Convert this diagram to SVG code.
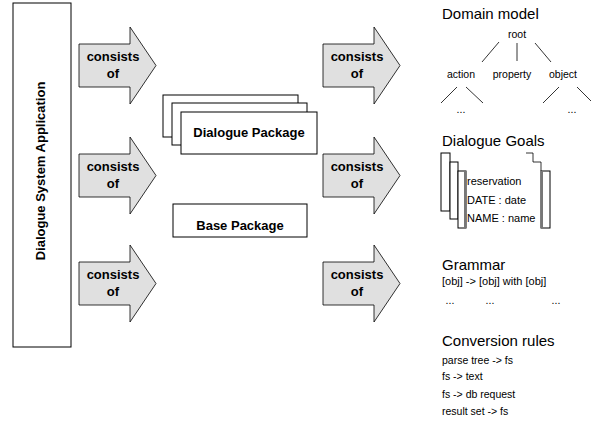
<svg xmlns="http://www.w3.org/2000/svg" width="591" height="425" viewBox="0 0 591 425">
<style>
.box{fill:#fff;stroke:#000;stroke-width:1}
.arrow{fill:#e0e0e0;stroke:#000;stroke-width:0.8}
.b{font-family:"Liberation Sans",Arial,sans-serif;font-weight:bold;font-size:13px;fill:#000}
.h{font-family:"Liberation Sans",Arial,sans-serif;font-size:15px;fill:#000}
.s{font-family:"Liberation Sans",Arial,sans-serif;font-size:11px;fill:#000}
.t{font-family:"Liberation Sans",Arial,sans-serif;font-size:10.5px;fill:#000}
.ln{stroke:#000;stroke-width:0.8;fill:none}
</style>
<defs>
<path id="arr" d="M0,17 H51 V0 L77,38.5 L51,77 V60 H0 Z"/>
</defs>
<rect width="591" height="425" fill="#fff"/>

<g id="app">
<rect class="box" x="13" y="3" width="58" height="344"/>
<text class="b" transform="translate(45,171) rotate(-90)" text-anchor="middle">Dialogue System Application</text>
</g>

<g id="connectors">
<g id="arrowL1"><use href="#arr" class="arrow" x="79" y="27"/><text class="b" x="113" y="61" text-anchor="middle">consists</text><text class="b" x="113" y="78" text-anchor="middle">of</text></g>
<g id="arrowL2"><use href="#arr" class="arrow" x="79" y="137"/><text class="b" x="113" y="171" text-anchor="middle">consists</text><text class="b" x="113" y="188" text-anchor="middle">of</text></g>
<g id="arrowL3"><use href="#arr" class="arrow" x="79" y="245"/><text class="b" x="113" y="279" text-anchor="middle">consists</text><text class="b" x="113" y="296" text-anchor="middle">of</text></g>
<g id="arrowR1"><use href="#arr" class="arrow" x="323" y="27"/><text class="b" x="357" y="61" text-anchor="middle">consists</text><text class="b" x="357" y="78" text-anchor="middle">of</text></g>
<g id="arrowR2"><use href="#arr" class="arrow" x="323" y="137"/><text class="b" x="357" y="171" text-anchor="middle">consists</text><text class="b" x="357" y="188" text-anchor="middle">of</text></g>
<g id="arrowR3"><use href="#arr" class="arrow" x="323" y="245"/><text class="b" x="357" y="279" text-anchor="middle">consists</text><text class="b" x="357" y="296" text-anchor="middle">of</text></g>
</g>

<g id="dialoguePackage">
<rect class="box" x="163" y="95" width="135" height="42"/>
<rect class="box" x="172" y="103" width="135" height="42"/>
<rect class="box" x="181" y="112" width="136" height="42"/>
<text class="b" x="249" y="137" text-anchor="middle">Dialogue Package</text>
</g>

<g id="basePackage">
<rect class="box" x="173" y="204" width="134" height="33"/>
<text class="b" x="240" y="230" text-anchor="middle">Base Package</text>
</g>

<g id="domainModel">
<text class="h" x="442" y="19">Domain model</text>
<text class="t" x="517" y="38" text-anchor="middle">root</text>
<path class="ln" d="M499,42 L482,62 M517,43 V61 M535,43 L551,62"/>
<text class="t" x="461" y="78" text-anchor="middle">action</text>
<text class="t" x="512" y="78" text-anchor="middle">property</text>
<text class="t" x="563" y="78" text-anchor="middle">object</text>
<path class="ln" d="M457,87 L441,103 M466,87 L483,103 M559,87 L543,103 M577,87 L591,101"/>
<text class="t" x="461" y="113" text-anchor="middle">...</text>
<text class="t" x="572" y="113" text-anchor="middle">...</text>
</g>

<g id="dialogueGoals">
<text class="h" x="442" y="146">Dialogue Goals</text>
<rect class="box" x="441" y="153" width="9" height="58"/>
<rect class="box" x="450" y="162" width="8" height="57"/>
<rect class="box" x="458" y="171" width="8" height="57"/>
<line x1="465" y1="171" x2="465" y2="228" stroke="#777" stroke-width="2"/>
<path class="ln" d="M526,153 H533 V162 H541 V171"/>
<rect class="box" x="541" y="171" width="9" height="57"/>
<line x1="542" y1="171" x2="542" y2="228" stroke="#777" stroke-width="2"/>
<text class="s" x="467" y="185">reservation</text>
<text class="s" x="467" y="204">DATE : date</text>
<text class="s" x="467" y="222">NAME : name</text>
</g>

<g id="grammar">
<text class="h" x="442" y="270">Grammar</text>
<text class="s" x="442" y="285">[obj]  -&gt; [obj] with  [obj]</text>
<text class="t" x="450" y="304" text-anchor="middle">...</text>
<text class="t" x="490" y="304" text-anchor="middle">...</text>
<text class="t" x="556" y="304" text-anchor="middle">...</text>
</g>

<g id="conversionRules">
<text class="h" x="442" y="346">Conversion rules</text>
<text class="t" x="442" y="364">parse tree -&gt; fs</text>
<text class="t" x="442" y="380">fs -&gt; text</text>
<text class="t" x="442" y="398">fs -&gt; db request</text>
<text class="t" x="442" y="415">result set -&gt; fs</text>
</g>
</svg>
